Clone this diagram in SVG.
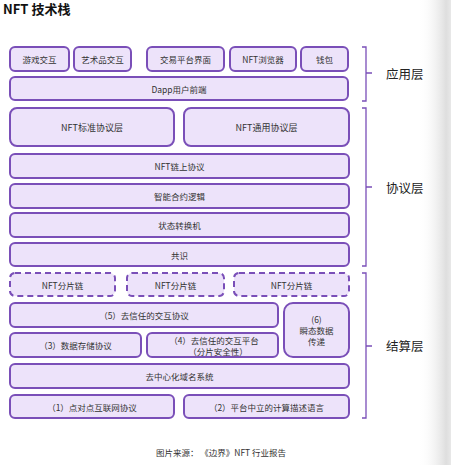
<svg xmlns="http://www.w3.org/2000/svg" width="451" height="465" viewBox="0 0 451 465">
<defs>
<linearGradient id="shade" x1="0" y1="0" x2="1" y2="0">
<stop offset="0" stop-color="#ffffff" stop-opacity="0"/>
<stop offset="0.85" stop-color="#dedede"/>
<stop offset="1" stop-color="#e8e8e8"/>
</linearGradient>
<style>
text{font-family:"Noto Sans CJK SC","Noto Sans",sans-serif;fill:#333333;}
.b{fill:#ede3fa;stroke:#7a4fb8;stroke-width:2;}
.d{fill:#ede3fa;stroke:#7a4fb8;stroke-width:2;stroke-dasharray:6 4;}
.t{font-size:8.5px;text-anchor:middle;dominant-baseline:central;}
.br{fill:none;stroke:#7a4fb8;stroke-width:1.3;}
.lab{font-size:12.5px;fill:#222;dominant-baseline:central;}
</style>
</defs>
<rect width="451" height="465" fill="#ffffff"/>
<rect x="418" y="0" width="33" height="465" fill="url(#shade)"/>
<text x="3" y="14" style="font-size:13px;font-weight:bold;fill:#111;">NFT 技术栈</text>

<g id="app-layer">
<g id="n-game"><rect class="b" x="10" y="47" width="59" height="24" rx="5"/><text class="t" x="39.5" y="59">游戏交互</text></g>
<g id="n-art"><rect class="b" x="74" y="47" width="57" height="24" rx="5"/><text class="t" x="102.5" y="59">艺术品交互</text></g>
<g id="n-trade"><rect class="b" x="147" y="47" width="77" height="24" rx="5"/><text class="t" x="185.5" y="59">交易平台界面</text></g>
<g id="n-browser"><rect class="b" x="230" y="47" width="66" height="24" rx="5"/><text class="t" x="263" y="59">NFT浏览器</text></g>
<g id="n-wallet"><rect class="b" x="301" y="47" width="47" height="24" rx="5"/><text class="t" x="324.5" y="59">钱包</text></g>
<g id="n-dapp"><rect class="b" x="10" y="77" width="338" height="23" rx="5"/><text class="t" x="179" y="88.5">Dapp用户前端</text></g>
</g>

<g id="protocol-layer">
<g id="n-std"><rect class="b" x="10" y="108" width="164" height="38" rx="7"/><text class="t" x="92" y="127" style="font-size:9px">NFT标准协议层</text></g>
<g id="n-gen"><rect class="b" x="184" y="108" width="165" height="38" rx="7"/><text class="t" x="266.5" y="127" style="font-size:9px">NFT通用协议层</text></g>
<g id="n-onchain"><rect class="b" x="10" y="154" width="339" height="24" rx="5"/><text class="t" x="179.5" y="166">NFT链上协议</text></g>
<g id="n-smart"><rect class="b" x="10" y="184" width="339" height="24" rx="5"/><text class="t" x="179.5" y="196">智能合约逻辑</text></g>
<g id="n-state"><rect class="b" x="10" y="213" width="339" height="24" rx="5"/><text class="t" x="179.5" y="225">状态转换机</text></g>
<g id="n-consensus"><rect class="b" x="10" y="243" width="339" height="23" rx="5"/><text class="t" x="179.5" y="254.5">共识</text></g>
</g>

<g id="settle-layer">
<g id="n-shard1"><rect class="d" x="10" y="273" width="105" height="23" rx="5"/><text class="t" x="62.5" y="284.5">NFT分片链</text></g>
<g id="n-shard2"><rect class="d" x="127" y="273" width="97" height="23" rx="5"/><text class="t" x="175.5" y="284.5">NFT分片链</text></g>
<g id="n-shard3"><rect class="d" x="234" y="273" width="115" height="23" rx="5"/><text class="t" x="291.5" y="284.5">NFT分片链</text></g>
<g id="n-5"><rect class="b" x="10" y="303" width="268" height="24" rx="5"/><text class="t" x="144" y="315">（5）去信任的交互协议</text></g>
<g id="n-6"><rect class="b" x="284" y="303" width="65" height="54" rx="9"/><text class="t" x="316.5" y="319">(6)</text><text class="t" x="316.5" y="330">瞬态数据</text><text class="t" x="316.5" y="341">传递</text></g>
<g id="n-3"><rect class="b" x="10" y="333" width="131" height="24" rx="5"/><text class="t" x="75.5" y="345">（3）数据存储协议</text></g>
<g id="n-4"><rect class="b" x="147" y="333" width="131" height="24" rx="5"/><text class="t" x="214" y="340">（4）去信任的交互平台</text><text class="t" x="218" y="350.5">（分片安全性）</text></g>
<g id="n-dns"><rect class="b" x="10" y="364" width="339" height="24" rx="5"/><text class="t" x="179.5" y="376">去中心化域名系统</text></g>
<g id="n-1"><rect class="b" x="10" y="395" width="164" height="23" rx="5"/><text class="t" x="92" y="406.5">（1）点对点互联网协议</text></g>
<g id="n-2"><rect class="b" x="184" y="395" width="165" height="23" rx="5"/><text class="t" x="266.5" y="406.5">（2）平台中立的计算描述语言</text></g>
</g>

<g id="connectors">
<path class="br" d="M362 47 H366 V101 H362 M366 73 H372"/>
<path class="br" d="M362 108 H366 V266 H362 M366 187 H372"/>
<path class="br" d="M362 273 H366 V418 H362 M366 346 H372"/>
</g>

<text class="lab" x="386" y="73">应用层</text>
<text class="lab" x="386" y="187">协议层</text>
<text class="lab" x="386" y="345">结算层</text>

<text x="221" y="452" style="font-size:8.5px;text-anchor:middle;dominant-baseline:central;fill:#333">图片来源：  《边界》NFT  行业报告</text>
</svg>
